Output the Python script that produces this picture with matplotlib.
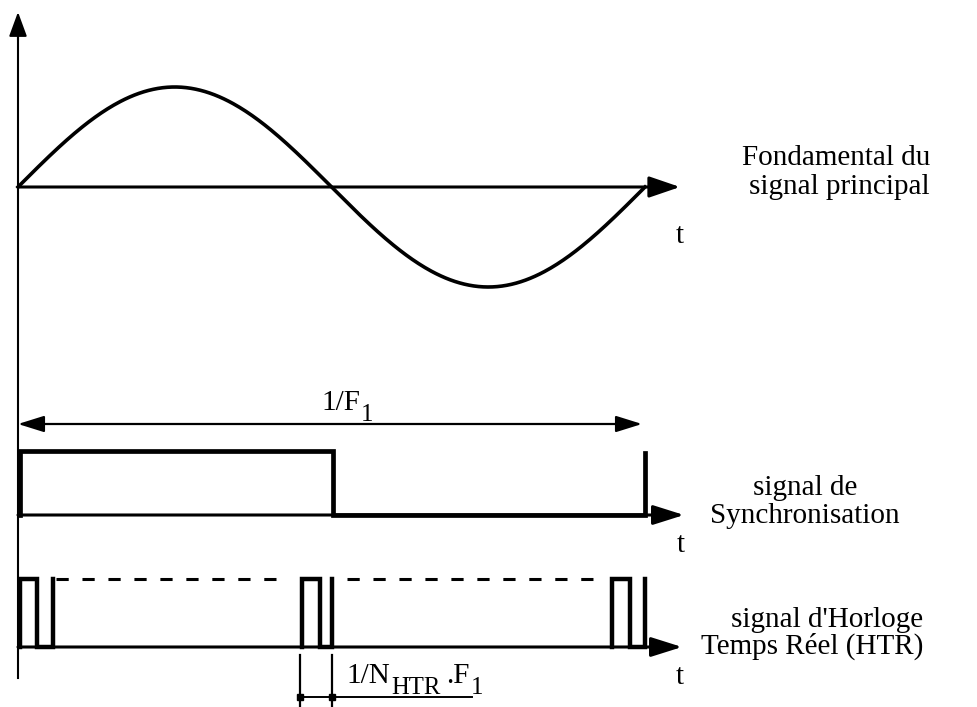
import numpy as np
import matplotlib
matplotlib.use("Agg")
import matplotlib.pyplot as plt

plt.rcParams['font.family'] = ['Liberation Serif', 'DejaVu Serif']

# --- signal data (time in units of the fundamental period 1/F1) ---
sync_t = [0.003, 0.003, 0.502, 0.502, 1.0, 1.0]
sync_lvl = [0, 1, 1, 0, 0, 0.97]

# HTR clock: visible pulse groups (time, level), dashed gaps between them
htr_groups_t = [[0.003, 0.003, 0.030, 0.030, 0.056, 0.056],
                [0.453, 0.453, 0.482, 0.482, 0.501, 0.501],
                [0.947, 0.947, 0.976, 0.976, 1.0, 1.0]]
htr_groups_lvl = [[0, 1, 1, 0, 0, 1],
                  [0, 1, 1, 0, 0, 1],
                  [0, 1, 1, 0, 0, 1]]
htr_dash_t = [[0.060, 0.423], [0.525, 0.925]]
htr_step = [0.450, 0.500]   # 1/N_HTR.F1 marker

label_sine = ["Fondamental du", "signal principal"]
label_sync = ["signal de", "Synchronisation"]
label_htr = ["signal d'Horloge", "Temps Réel (HTR)"]

# --- layout (pixels) ---
X0, PER = 18, 627
W, H = 978, 707
sine_y0, sine_amp = 187, 100
sync_y0, sync_amp = 515, 64
htr_y0, htr_amp = 647, 68
FS = 21

fig = plt.figure(figsize=(W / 100, H / 100), dpi=100)
ax = fig.add_axes([0, 0, 1, 1])
ax.set_xlim(-X0 / PER, (W - X0) / PER)
ax.set_ylim(H, 0)
ax.axis('off')

def tx(px):
    return (px - X0) / PER

def arrow(x1, y1, x2, y2, lw=2.0, hl=1.8, hw=0.65):
    ax.annotate("", xy=(x2, y2), xytext=(x1, y1),
                arrowprops=dict(arrowstyle="-|>,head_length=%g,head_width=%g" % (hl, hw),
                                color='black', lw=lw, shrinkA=0, shrinkB=0,
                                mutation_scale=10))

def follow(prev, s, sub, dx=1):
    # next piece of text glued to the right of the previous one
    if sub:
        return ax.annotate(s, xy=(1, 0), xycoords=prev, xytext=(dx, -7),
                           textcoords='offset points', fontsize=FS * 0.85,
                           ha='left', va='bottom')
    return ax.annotate(s, xy=(1, 0), xycoords=prev, xytext=(dx, 7),
                       textcoords='offset points', fontsize=FS, ha='left', va='bottom')

# vertical axis
ax.plot([0, 0], [678, 30], color='black', lw=1.5)
arrow(0, 40, 0, 12, lw=1.5, hl=1.5, hw=0.55)

# sine fundamental
t = np.linspace(0, 1.0, 400)
ax.plot(t, sine_y0 - sine_amp * np.sin(2 * np.pi * t), color='black', lw=2.6)
arrow(0, sine_y0, tx(680), sine_y0, lw=2.2, hl=1.9, hw=0.65)
ax.text(tx(680), 236, "t", fontsize=FS, ha='center', va='center')

# 1/F1 double arrow
ax.annotate("", xy=(0, 424), xytext=(tx(642), 424),
            arrowprops=dict(arrowstyle="<|-|>,head_length=1.6,head_width=0.5",
                            color='black', lw=1.6, shrinkA=0, shrinkB=0,
                            mutation_scale=10))
t1 = ax.text(tx(321), 410, "1/F", fontsize=FS, ha='left', va='baseline')
follow(t1, "1", True)

# synchronisation signal
arrow(0, sync_y0, tx(684), sync_y0, lw=2.2, hl=1.9, hw=0.6)
ax.plot(sync_t, [sync_y0 - sync_amp * v for v in sync_lvl], color='black', lw=3.4,
        solid_joinstyle='miter')
ax.text(tx(681), 545, "t", fontsize=FS, ha='center', va='center')

# HTR clock signal
arrow(0, htr_y0, tx(682), htr_y0, lw=2.2, hl=1.9, hw=0.6)
for gt, gl in zip(htr_groups_t, htr_groups_lvl):
    ax.plot(gt, [htr_y0 - htr_amp * v for v in gl], color='black', lw=3.2,
            solid_joinstyle='miter')
for d in htr_dash_t:
    ax.plot(d, [htr_y0 - htr_amp] * 2, color='black', lw=2.2, ls=(0, (4, 4.5)))
ax.text(tx(680), 677, "t", fontsize=FS, ha='center', va='center')

# 1/N_HTR.F1 dimension marker
for s in htr_step:
    ax.plot([s, s], [655, 707], color='black', lw=1.6)
ax.plot([htr_step[0], tx(472)], [697, 697], color='black', lw=1.4)
ax.plot(htr_step, [697, 697], 's', color='black', ms=4.5)
n1 = ax.text(tx(346), 683, "1/N", fontsize=FS, ha='left', va='baseline')
n2 = follow(n1, "HTR", True)
n3 = follow(n2, ".F", False, dx=4)
follow(n3, "1", True)

# right-hand labels
ax.text(tx(930), 158, label_sine[0], fontsize=FS, ha='right', va='center')
ax.text(tx(930), 187, label_sine[1], fontsize=FS, ha='right', va='center')
ax.text(tx(805), 488, label_sync[0], fontsize=FS, ha='center', va='center')
ax.text(tx(805), 516, label_sync[1], fontsize=FS, ha='center', va='center')
ax.text(tx(923), 620, label_htr[0], fontsize=FS, ha='right', va='center')
ax.text(tx(923), 646, label_htr[1], fontsize=FS, ha='right', va='center')

fig.savefig("out.png", dpi=100)
